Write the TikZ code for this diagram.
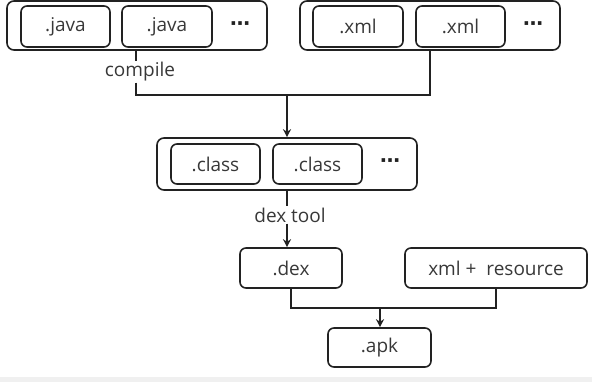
\documentclass[tikz,border=0pt]{standalone}
\usepackage{fontspec}
\setmainfont{Open Sans}
\newfontfamily\dejavu{DejaVu Sans}
\usetikzlibrary{arrows.meta,calc}
\definecolor{txt}{HTML}{383838}
\definecolor{ln}{HTML}{222222}
\definecolor{band}{HTML}{F0F0F0}
\begin{document}
\begin{tikzpicture}[x=1pt,y=-1pt,
  every node/.style={font=\fontsize{19}{22}\selectfont, text=txt},
  grp/.style={draw=ln, line width=1.6pt, rounded corners=7pt, inner sep=0pt, minimum width=260pt},
  fbox/.style={draw=ln, line width=1.6pt, rounded corners=6pt, inner sep=0pt, minimum height=40pt},
  lbl/.style={inner sep=1pt},
  dots/.style={inner sep=0pt, font=\dejavu\bfseries\fontsize{20}{22}\selectfont, text=ln},
  conn/.style={draw=ln, line width=1.6pt},
  arr/.style={conn, -{Stealth[length=8pt,width=8pt]}}]
\useasboundingbox (0,0) rectangle (592,382);
\fill[band] (0,377) rectangle (592,382);
% top groups
\node[grp, minimum height=49pt] (javaG) at (137,25.5) {};
\node[fbox, minimum width=89pt, minimum height=41pt] (java1) at (65.5,26.5) {.java};
\node[fbox, minimum width=90pt, minimum height=41pt] (java2) at (167,26.5) {.java};
\node[dots] (jdots) at (240,26) {⋯};
\node[grp, minimum height=49pt] (xmlG) at (430,25.5) {};
\node[fbox, minimum width=90pt, minimum height=41pt] (xml1) at (358,26.5) {.xml};
\node[fbox, minimum width=89pt, minimum height=41pt] (xml2) at (460.5,26.5) {.xml};
\node[dots] (xdots) at (533,26) {⋯};
% class group
\node[grp, minimum height=52pt] (classG) at (287,164) {};
\node[fbox, minimum width=89pt] (class1) at (215.5,164) {.class};
\node[fbox, minimum width=89pt] (class2) at (317.5,164) {.class};
\node[dots] (cdots) at (390,163) {⋯};
% bottom
\node[fbox, minimum width=102pt] (dex) at (291,268) {.dex};
\node[fbox, minimum width=182pt] (xres) at (496,268) {xml +\ \ resource};
\node[fbox, minimum width=103pt, minimum height=39pt] (apk) at (379.5,347.5) {.apk};
% labels
\node[lbl] (compile) at (140,72) {compile};
\node[lbl] (dextool) at (290,215) {dex tool};
% connectors
\coordinate (jm) at (136,95);
\coordinate (m) at (287,95);
\coordinate (bm) at (380,308);
\draw[conn] (javaG.south -| jm) -- (compile.north -| jm);
\draw[conn] (compile.south -| jm) -- (jm) -- (m);
\draw[conn] (xmlG.south) |- (m);
\draw[arr] (m) -- (classG.north);
\draw[conn] (classG.south) -- (dextool.north -| classG.south);
\draw[arr] (dextool.south -| classG.south) -- (dex.north -| classG.south);
\draw[conn] (dex.south) |- (bm);
\draw[conn] (xres.south) |- (bm);
\draw[arr] (bm) -- (apk.north -| bm);
\end{tikzpicture}
\end{document}
